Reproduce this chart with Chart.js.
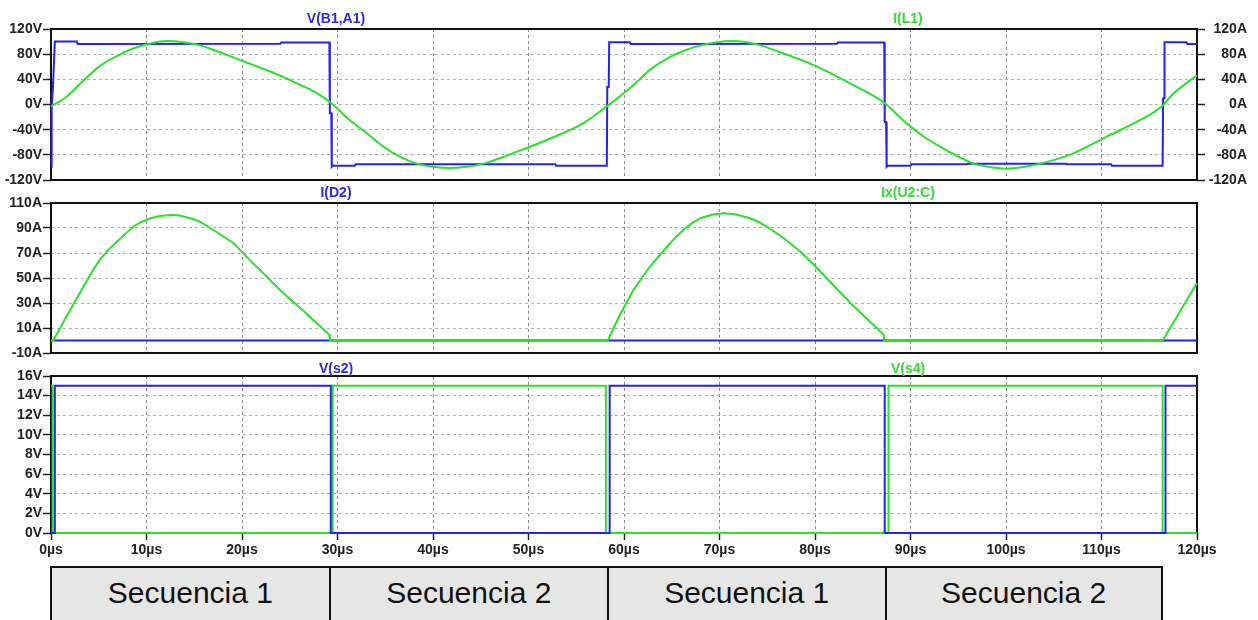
<!DOCTYPE html>
<html lang="es">
<head>
<meta charset="UTF-8">
<title>Secuencias de conmutación</title>
<style>
  body { margin: 0; background: #fff; font-family: "Liberation Sans", Arial, sans-serif; }
  #wrap { position: relative; width: 1258px; height: 620px; overflow: hidden; background: #fff; }
  canvas { position: absolute; left: 0; }
  .lbl { position: absolute; font-weight: bold; font-size: 14px; line-height: 16px; transform: translateX(-50%); white-space: nowrap; z-index: 5; }
  .seq { position: absolute; top: 566px; height: 70px; box-sizing: border-box; background: #e6e6e6; border: 2px solid #111;
         text-align: center; font-size: 30px; line-height: 30px; padding-top: 10px; color: #111; }
</style>
</head>
<body>
<div id="wrap">
  <canvas id="p1" width="1258" height="190" style="top:0px"></canvas>
  <canvas id="p2" width="1258" height="179" style="top:184px"></canvas>
  <canvas id="p3" width="1258" height="210" style="top:356px"></canvas>

  <div class="lbl" style="left:336px;top:10px;color:#2a2aee">V(B1,A1)</div>
  <div class="lbl" style="left:908px;top:10px;color:#33dd33">I(L1)</div>
  <div class="lbl" style="left:336px;top:184px;color:#2a2aee">I(D2)</div>
  <div class="lbl" style="left:908px;top:184px;color:#33dd33">Ix(U2:C)</div>
  <div class="lbl" style="left:336px;top:360px;color:#2a2aee">V(s2)</div>
  <div class="lbl" style="left:908px;top:360px;color:#33dd33">V(s4)</div>
</div>

<script src="https://cdn.jsdelivr.net/npm/chart.js"></script>
<script>
// eje de tiempo (µs)
const xTicks = [0, 10, 20, 30, 40, 50, 60, 70, 80, 90, 100, 110, 120];
const y1Ticks = [120, 80, 40, 0, -40, -80, -120];
const y2Ticks = [110, 90, 70, 50, 30, 10, -10];
const y3Ticks = [16, 14, 12, 10, 8, 6, 4, 2, 0];

// V(B1,A1) [V]
const tVab = [0, 0.07, 0.2, 0.4, 2.7, 2.8, 24, 24.1, 29.15, 29.2, 29.35, 29.4, 29.5, 31.8, 31.9, 52.8, 52.9, 58.2,
              58.25, 58.4, 58.45, 60.6, 60.7, 82.3, 82.4, 87.25, 87.3, 87.45, 87.5, 87.6, 90, 90.1, 95.9, 96, 106.3, 106.4, 111, 111.1, 116.4,
              116.45, 116.55, 116.6, 118.9, 119, 120];
const vVab = [-99, -3, 26, 100, 100, 96, 96.5, 98.5, 98.5, -14, -14, -99, -97.5, -97.5, -95, -95, -97.5, -97.5,
              28, 28, 99, 99, 96, 96.5, 98.5, 98.5, -28, -28, -99, -97.5, -97.5, -95, -95, -94, -94, -95, -95, -97.5, -97.5,
              10, 10, 99, 99, 96, 96];

// I(L1) [A]
const tIL1 = [0, 1.6, 3.4, 5.1, 6.9, 8.6, 10.4, 12.1, 13.9, 15.6, 17.3, 19.1, 20.8, 22.6, 24.3, 26.1, 27.8, 29.2,
              31.3, 33.1, 34.8, 36.5, 38.3, 40, 41.8, 43.5, 45.3, 48.8, 52.3, 55.7, 58.2,
              61, 62.7, 64.5, 66.2, 68, 69.8, 71, 72.7, 74.3, 76, 77.8, 79.5, 81.2, 82.6, 84.5, 86, 87.3,
              89.6, 91.3, 93.1, 94.9, 96.6, 98.3, 100.1, 101.8, 103.6, 107, 110.5, 114, 116.3, 117.5, 120];
const vIL1 = [-3, 12, 38, 61, 77, 89, 97, 101, 99, 94, 85, 75, 65, 54.5, 44, 31, 18.5, 4,
              -25, -46, -67, -83, -94, -99, -101, -99, -94, -75, -54, -30, -3,
              31, 55, 73, 85, 94, 99, 101, 99.5, 94, 85, 75, 65, 53, 42, 27, 15, 2,
              -30, -50, -67, -82, -94, -99.5, -102, -99.5, -94, -78, -51.5, -25, -3, 17, 46.6];

// I(D2) [A]
const tID2 = [0, 120];
const vID2 = [0, 0];

// Ix(U2:C) [A]
const tIU2 = [0, 0.25, 1.6, 3.4, 4.3, 5.1, 6.0, 6.9, 7.8, 8.6, 9.5, 10.4, 11.4, 12.5, 13.3, 14, 14.8, 15.6, 17.3, 19.1, 20.8, 22.6, 24.3, 26.1, 27.8, 29.15, 29.2,
              58.3, 59.6, 61, 62.7, 64.5, 65.4, 66.2, 67.1, 68, 69.2, 70.4, 71.8, 73.2, 74.1, 75, 76.7, 78.5, 80.2, 83.7, 87.2, 87.25, 116.4, 120];
const vIU2 = [0, 0, 19, 43, 55, 64.5, 72.5, 79, 85.5, 91, 95, 97.8, 99.6, 100.4, 100.2, 99, 97.4, 95, 87, 78, 64.5, 51, 38, 26, 14, 4.6, 0,
              0, 21, 40.5, 59, 75, 82.5, 88.4, 93.7, 97.8, 100.6, 101.8, 100.8, 97.8, 94.8, 91, 82, 71, 58, 30, 4.6, 0, 0, 46];

// V(s2) y V(s4) [V]
const tS2 = [0, 0.4, 0.4, 29.3, 29.3, 58.5, 58.5, 87.3, 87.3, 116.7, 116.7, 120];
const vS2 = [0, 0, 15, 15, 0, 0, 15, 15, 0, 0, 15, 15];
const tS4 = [0, 0.17, 0.17, 29.5, 29.5, 58.1, 58.1, 87.7, 87.7, 116.4, 116.4, 120];
const vS4 = [15, 15, 0, 0, 15, 15, 0, 0, 15, 15, 0, 0];

// secuencias
const seqEdges = [0, 29.2, 58.3, 87.4, 116.3];
const seqNames = ['Secuencia 1', 'Secuencia 2', 'Secuencia 1', 'Secuencia 2'];

const FONT = "'Liberation Sans', Arial, sans-serif";
const BLUE = '#2323f0';
const GREEN = '#2ee02e';
const tickFont = { family: FONT, size: 14, weight: 'bold' };

function pts(ts, vs) { return ts.map((t, i) => ({ x: t, y: vs[i] })); }

const framePlugin = {
    id: 'frame',
    beforeDatasetsDraw(c) {
        const a = c.chartArea, g = c.ctx;
        g.save();
        g.strokeStyle = '#111';
        g.lineWidth = 2;
        g.setLineDash([]);
        g.strokeRect(a.left, a.top, a.right - a.left, a.bottom - a.top);
        g.restore();
    }
};

function line(data, color, axis, smooth) {
    return {
        data: data, borderColor: color, borderWidth: 2, pointRadius: 0, fill: false,
        yAxisID: axis, tension: 0, cubicInterpolationMode: smooth ? 'monotone' : 'default', clip: 4
    };
}

function xAxis(showLabels, h) {
    return {
        type: 'linear', min: 0, max: 120,
        afterBuildTicks: s => { s.ticks = xTicks.map(v => ({ value: v })); },
        afterFit: s => { s.height = h; },
        border: { display: false, dash: [3, 3] },
        grid: { color: '#8a8a8a', lineWidth: 1, drawTicks: showLabels, tickLength: 7, tickColor: '#222', tickBorderDash: [], tickWidth: 1.5 },
        ticks: { display: showLabels, autoSkip: false, maxRotation: 0, padding: 2, color: '#222', font: tickFont, callback: v => v + 'µs' }
    };
}

function yAxis(ticks, unit, pos, w, onArea) {
    return {
        type: 'linear', position: pos, min: Math.min(...ticks), max: Math.max(...ticks),
        afterBuildTicks: s => { s.ticks = ticks.map(v => ({ value: v })); },
        afterFit: s => { s.width = w; },
        border: { display: false, dash: [3, 3] },
        grid: { color: '#b0b0b0', lineWidth: 1, drawOnChartArea: onArea, tickLength: 8, tickColor: '#222', tickBorderDash: [], tickWidth: 1.5 },
        ticks: { autoSkip: false, padding: 1, color: '#222', font: tickFont, crossAlign: pos === 'right' ? 'far' : 'near', callback: v => v + unit }
    };
}

function makeChart(id, datasets, scales, padding) {
    return new Chart(document.getElementById(id), {
        type: 'line',
        data: { datasets: datasets },
        options: {
            responsive: false, animation: false, devicePixelRatio: 1,
            layout: { padding: padding },
            plugins: { legend: { display: false }, tooltip: { enabled: false } },
            scales: scales
        },
        plugins: [framePlugin]
    });
}

makeChart('p1',
    [line(pts(tIL1, vIL1), GREEN, 'y2', true), line(pts(tVab, vVab), BLUE, 'y', false)],
    { x: xAxis(false, 10), y: yAxis(y1Ticks, 'V', 'left', 51, true), y2: yAxis(y1Ticks, 'A', 'right', 50, false) },
    { top: 29, right: 11, bottom: 0, left: 0 });

makeChart('p2',
    [line(pts(tIU2, vIU2), GREEN, 'y', false), line(pts(tID2, vID2), BLUE, 'y', false)],
    { x: xAxis(false, 10), y: yAxis(y2Ticks, 'A', 'left', 51, true) },
    { top: 19, right: 61, bottom: 0, left: 0 });

const c3 = makeChart('p3',
    [line(pts(tS2, vS2), BLUE, 'y', false), line(pts(tS4, vS4), GREEN, 'y', false)],
    { x: xAxis(true, 33), y: yAxis(y3Ticks, 'V', 'left', 51, true) },
    { top: 20, right: 61, bottom: 0, left: 0 });

// cajas de secuencia alineadas con el eje de tiempo
const wrap = document.getElementById('wrap');
const xs = c3.scales.x;
seqNames.forEach((name, i) => {
    const a = xs.getPixelForValue(seqEdges[i]);
    const b = xs.getPixelForValue(seqEdges[i + 1]);
    const d = document.createElement('div');
    d.className = 'seq';
    d.style.left = (a - 1) + 'px';
    d.style.width = (b - a + 2) + 'px';
    d.textContent = name;
    wrap.appendChild(d);
});
</script>
</body>
</html>
